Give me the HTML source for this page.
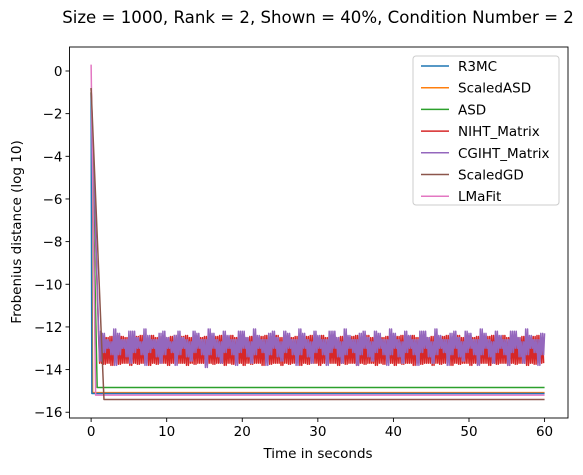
<!DOCTYPE html>
<html><head><meta charset="utf-8"><style>
html,body{margin:0;padding:0;background:#fff}
svg text{font-family:"DejaVu Sans","Liberation Sans",sans-serif;fill:#000}
</style></head><body>
<svg id="chart" width="583" height="470" viewBox="0 0 583 470" xmlns="http://www.w3.org/2000/svg">
<text x="318" y="23" font-size="16.6" text-anchor="middle">Size = 1000, Rank = 2, Shown = 40%, Condition Number = 2</text>
<g id="plot"></g>
<g id="axes"></g>
<text x="318" y="458" font-size="13.5" text-anchor="middle">Time in seconds</text>
<text transform="translate(21,232) rotate(-90)" font-size="13.5" text-anchor="middle">Frobenius distance (log 10)</text>
<g id="legend"></g>
</svg>
<script>
const xTicks=[0,10,20,30,40,50,60];
const yTicks=[0,-2,-4,-6,-8,-10,-12,-14,-16];
const seriesNames=["R3MC","ScaledASD","ASD","NIHT_Matrix","CGIHT_Matrix","ScaledGD","LMaFit"];
const seriesColors=["#1f77b4","#ff7f0e","#2ca02c","#d62728","#9467bd","#8c564b","#e377c2"];
const r3mcT=[0,0.1,60], r3mcY=[-1.0,-15.12,-15.12];
const sasdT=[0,0.2,60], sasdY=[-1.0,-15.08,-15.08];
const asdT=[0,0.8,60], asdY=[-1.0,-14.84,-14.84];
const sgdT=[0,1.7,60], sgdY=[-0.8,-15.4,-15.4];
const lmT=[0,0.6,60], lmY=[0.3,-15.2,-15.2];
const nihtHi=[-12.5,-12.4,-12.5,-12.45,-12.5,-12.4,-12.45,-12.5,-12.4,-12.5,-12.45,-12.4,-12.5,-12.45,-12.4,-12.5,-12.45,-12.4,-12.5,-12.45,-12.4,-12.5,-12.45,-12.4,-12.5,-12.45,-12.4,-12.5,-12.45,-12.4,-12.5,-12.45,-12.4,-12.5,-12.45,-12.4,-12.5,-12.45,-12.4,-12.5,-12.45,-12.4,-12.5,-12.45,-12.4,-12.5,-12.45,-12.4,-12.5,-12.45,-12.4,-12.5,-12.45,-12.4,-12.5,-12.45,-12.4,-12.5,-12.45,-12.4,-12.5,-12.45,-12.4,-12.5,-12.45,-12.4,-12.5,-12.45,-12.4,-12.5,-12.45,-12.4,-12.5,-12.45,-12.4,-12.5,-12.45,-12.4,-12.5,-12.45,-12.4,-12.5,-12.45,-12.4,-12.5,-12.45,-12.4,-12.5,-12.45,-12.4,-12.5,-12.45,-12.4,-12.5,-12.45,-12.4,-12.5,-12.45,-12.4,-12.5,-12.45,-12.4,-12.5,-12.45,-12.4,-12.5,-12.45,-12.4,-12.5,-12.45,-12.4,-12.5,-12.45,-12.4,-12.5,-12.45,-12.4,-12.5];
const nihtLo=[-13.7,-13.75,-13.7,-13.8,-13.7,-13.75,-13.7,-13.7,-13.8,-13.7,-13.75,-13.7,-13.7,-13.8,-13.7,-13.75,-13.7,-13.7,-13.8,-13.7,-13.75,-13.7,-13.7,-13.8,-13.7,-13.75,-13.7,-13.7,-13.8,-13.7,-13.75,-13.7,-13.7,-13.8,-13.7,-13.75,-13.7,-13.7,-13.8,-13.7,-13.75,-13.7,-13.7,-13.8,-13.7,-13.75,-13.7,-13.7,-13.8,-13.7,-13.75,-13.7,-13.7,-13.8,-13.7,-13.75,-13.7,-13.7,-13.8,-13.7,-13.75,-13.7,-13.7,-13.8,-13.7,-13.75,-13.7,-13.7,-13.8,-13.7,-13.75,-13.7,-13.7,-13.8,-13.7,-13.75,-13.7,-13.7,-13.8,-13.7,-13.75,-13.7,-13.7,-13.8,-13.7,-13.75,-13.7,-13.7,-13.8,-13.7,-13.75,-13.7,-13.7,-13.8,-13.7,-13.75,-13.7,-13.7,-13.8,-13.7,-13.75,-13.7,-13.7,-13.8,-13.7,-13.75,-13.7,-13.7,-13.8,-13.7,-13.75,-13.7,-13.7,-13.8,-13.7,-13.75,-13.7,-13.7,-13.8,-13.7];
const cgihtHi=[-12.2,-12.3,-12.6,-12.7,-12.1,-12.3,-12.6,-12.6,-12.2,-12.2,-12.5,-12.7,-12.1,-12.4,-12.6,-12.6,-12.3,-12.2,-12.5,-12.7,-12.4,-12.2,-12.5,-12.6,-12.7,-12.2,-12.3,-12.6,-12.6,-12.1,-12.3,-12.6,-12.7,-12.2,-12.4,-12.6,-12.6,-12.2,-12.2,-12.5,-12.7,-12.1,-12.4,-12.6,-12.6,-12.3,-12.2,-12.5,-12.7,-12.2,-12.3,-12.6,-12.6,-12.1,-12.3,-12.6,-12.7,-12.2,-12.4,-12.6,-12.6,-12.2,-12.2,-12.5,-12.7,-12.1,-12.4,-12.6,-12.6,-12.3,-12.2,-12.5,-12.7,-12.2,-12.3,-12.6,-12.6,-12.1,-12.3,-12.6,-12.7,-12.2,-12.4,-12.6,-12.6,-12.2,-12.2,-12.5,-12.7,-12.1,-12.4,-12.6,-12.6,-12.3,-12.2,-12.5,-12.7,-12.2,-12.3,-12.6,-12.6,-12.1,-12.3,-12.6,-12.7,-12.2,-12.4,-12.6,-12.6,-12.2,-12.2,-12.5,-12.7,-12.1,-12.4,-12.6,-12.6,-12.3,-12.3];
const cgihtLo=[-13.6,-13.2,-13.0,-13.3,-13.8,-13.3,-13.0,-13.4,-13.7,-13.2,-13.0,-13.3,-13.8,-13.2,-13.0,-13.4,-13.7,-13.3,-13.0,-13.2,-13.8,-13.3,-13.0,-13.4,-13.6,-13.2,-13.0,-13.3,-13.9,-13.3,-13.0,-13.4,-13.7,-13.2,-13.0,-13.3,-13.8,-13.2,-13.0,-13.4,-13.7,-13.3,-13.0,-13.2,-13.8,-13.3,-13.0,-13.4,-13.6,-13.2,-13.0,-13.3,-13.8,-13.3,-13.0,-13.4,-13.7,-13.2,-13.0,-13.3,-13.8,-13.2,-13.0,-13.4,-13.7,-13.3,-13.0,-13.2,-13.8,-13.3,-13.0,-13.4,-13.6,-13.2,-13.0,-13.3,-13.8,-13.3,-13.0,-13.4,-13.7,-13.2,-13.0,-13.3,-13.8,-13.2,-13.0,-13.4,-13.7,-13.3,-13.0,-13.2,-13.8,-13.3,-13.0,-13.4,-13.6,-13.2,-13.0,-13.3,-13.8,-13.3,-13.0,-13.4,-13.7,-13.2,-13.0,-13.3,-13.8,-13.2,-13.0,-13.4,-13.7,-13.3,-13.0,-13.2,-13.8,-13.3,-13.0];
const noisyStart=-0.8;

const NS="http://www.w3.org/2000/svg";
const L=69.5,R=568,T=47,B=418,X0=-2.86,X1=63.1,Y0=-16.27,Y1=1.125;
function sx(v){return L+(v-X0)/(X1-X0)*(R-L);}
function sy(v){return B-(v-Y0)/(Y1-Y0)*(B-T);}
function mk(tag,attrs,parent){const e=document.createElementNS(NS,tag);for(const k in attrs)e.setAttribute(k,attrs[k]);parent.appendChild(e);return e;}
const plot=document.getElementById('plot'),axes=document.getElementById('axes'),legend=document.getElementById('legend');
const cp=mk('clipPath',{id:'clip'},plot);
mk('rect',{x:L,y:T,width:R-L,height:B-T},cp);
const g=mk('g',{'clip-path':'url(#clip)'},plot);
function line(ts,ys,color,name){
  const p=mk('polyline',{points:ts.map((t,i)=>sx(t).toFixed(2)+','+sy(ys[i]).toFixed(2)).join(' '),fill:'none',stroke:color,'stroke-width':1.5,'stroke-linejoin':'round'},g);
  
  
}
function noisy(hi,lo,color,name){
  const pts=[[0,noisyStart]];
  for(let i=0;i<hi.length;i++){const t=1.0+i*0.5;if(t>60)break;
    for(let k=0;k<4;k++){const tt=t+k*0.125;if(tt>60)break;pts.push([tt,k%2?lo[i]:hi[i]]);}
  }
  line(pts.map(p=>p[0]),pts.map(p=>p[1]),color,name);
}
noisy(nihtHi,nihtLo,seriesColors[3],'series-niht-matrix');
noisy(cgihtHi,cgihtLo,seriesColors[4],'series-cgiht-matrix');
line(asdT,asdY,seriesColors[2],'series-asd');
line(sasdT,sasdY,seriesColors[1],'series-scaledasd');
line(r3mcT,r3mcY,seriesColors[0],'series-r3mc');
line(lmT,lmY,seriesColors[6],'series-lmafit');
line(sgdT,sgdY,seriesColors[5],'series-scaledgd');
const fr=mk('rect',{x:L,y:T,width:R-L,height:B-T,fill:'none',stroke:'#000','stroke-width':0.9},axes);


xTicks.forEach(v=>{
  const t=mk('line',{x1:sx(v),x2:sx(v),y1:B,y2:B+4,stroke:'#000','stroke-width':0.9},axes);
  
  
  const tx=mk('text',{x:sx(v),y:B+18,'font-size':13.5,'text-anchor':'middle'},axes);tx.textContent=String(v);
  
  
});
yTicks.forEach(v=>{
  const t=mk('line',{x1:L-4,x2:L,y1:sy(v),y2:sy(v),stroke:'#000','stroke-width':0.9},axes);
  
  
  const tx=mk('text',{x:L-7,y:sy(v)+5,'font-size':13.5,'text-anchor':'end'},axes);tx.textContent=v<0?'\u2212'+Math.abs(v):String(v);
  
  
});
const lb=mk('rect',{x:413,y:56,width:146,height:149,rx:3,fill:'#fff','fill-opacity':0.8,stroke:'#ccc','stroke-width':1},legend);


seriesNames.forEach((n,i)=>{
  const y=66+i*21.7;
  const ln=mk('line',{x1:421,x2:449,y1:y,y2:y,stroke:seriesColors[i],'stroke-width':1.5},legend);
  
  
  const tx=mk('text',{x:458,y:y+5,'font-size':13.5},legend);tx.textContent=n;
  
  
});
</script>
</body></html>
